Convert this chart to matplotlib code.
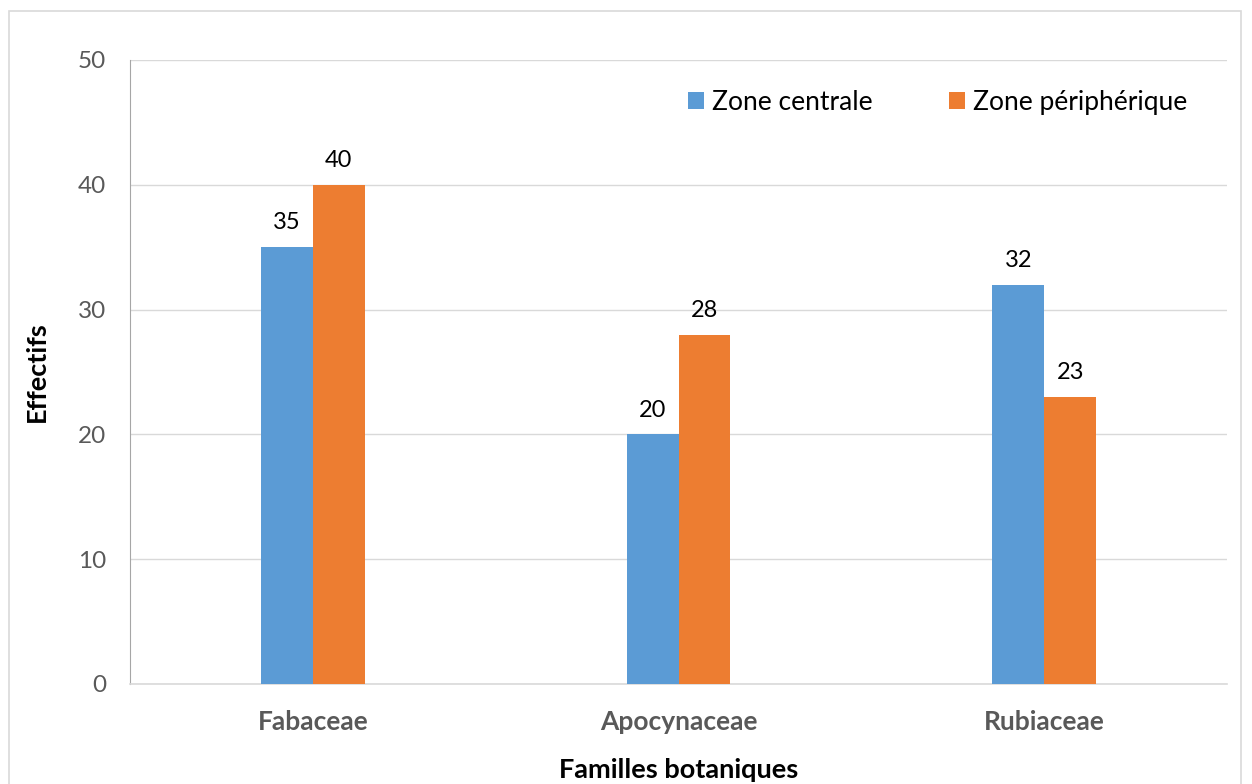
import matplotlib.pyplot as plt
import numpy as np
from matplotlib.patches import Rectangle

plt.rcParams['font.family'] = ['Lato', 'DejaVu Sans']

familles = ["Fabaceae", "Apocynaceae", "Rubiaceae"]
zone_centrale = [35, 20, 32]
zone_peripherique = [40, 28, 23]
series_noms = ["Zone centrale", "Zone périphérique"]

bleu = "#5B9BD5"
orange = "#ED7D31"
gris = "#595959"

fig = plt.figure(figsize=(12.52, 7.84), dpi=100)
W, H = 1252, 784
ax = fig.add_axes([130 / W, 1 - 684 / H, (1227 - 130) / W, (684 - 60) / H])

# outer chart border (bottom edge falls outside the image)
fig.add_artist(Rectangle((9 / W, -20 / H), (1241 - 9) / W, (H - 11 + 20) / H,
                         transform=fig.transFigure, fill=False,
                         edgecolor="#D9D9D9", linewidth=1.2))

x = np.arange(len(familles))
w = 0.142
b1 = ax.bar(x - w / 2, zone_centrale, w, color=bleu, label=series_noms[0], zorder=3)
b2 = ax.bar(x + w / 2, zone_peripherique, w, color=orange, label=series_noms[1], zorder=3)

for bars in (b1, b2):
    for r in bars:
        ax.text(r.get_x() + r.get_width() / 2, r.get_height() + 1.1,
                "%d" % r.get_height(), ha="center", va="bottom",
                fontsize=17, color="black")

ax.set_xlim(-0.5, 2.5)
ax.set_ylim(0, 50)
ax.set_yticks([0, 10, 20, 30, 40, 50])
ax.yaxis.grid(True, color="#D9D9D9", linewidth=1, zorder=0)
ax.set_axisbelow(True)

for s in ["top", "right"]:
    ax.spines[s].set_visible(False)
ax.spines["left"].set_color("#A6A6A6")
ax.spines["bottom"].set_color("#D9D9D9")
ax.spines["bottom"].set_linewidth(1.2)

ax.tick_params(axis="y", length=0, labelsize=17.5, labelcolor=gris, pad=17)
ax.tick_params(axis="x", length=0, labelsize=19, labelcolor=gris, pad=19)
ax.set_xticks(x)
ax.set_xticklabels(familles, fontweight="bold")

ax.set_xlabel("Familles botaniques", fontsize=19.5, fontweight="bold", va="center")
ax.xaxis.set_label_coords(0.5, (684 - 770) / 624)
ax.set_ylabel("Effectifs", fontsize=19.5, fontweight="bold", va="center", ha="center")
ax.yaxis.set_label_coords((37 - 130) / 1097, 0.5)

ax.legend(loc="upper right", bbox_to_anchor=(0.985, 0.99), ncol=2, frameon=False,
          fontsize=19, handlelength=0.6, handleheight=0.6, handletextpad=0.3,
          columnspacing=2.9)

fig.savefig("out.png", dpi=100)
